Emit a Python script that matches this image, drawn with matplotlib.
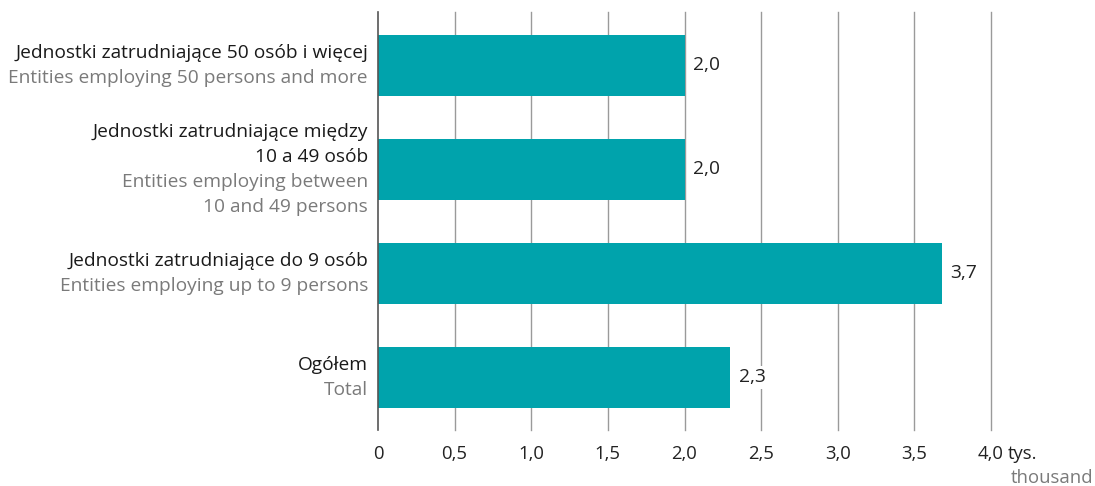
import matplotlib
matplotlib.use("Agg")
import matplotlib.pyplot as plt
import matplotlib.transforms as mtransforms

plt.rcParams["font.family"] = ["Open Sans", "DejaVu Sans"]

# categories from bottom to top
labels_pl = [["Ogółem"],
             ["Jednostki zatrudniające do 9 osób"],
             ["Jednostki zatrudniające między", "10 a 49 osób"],
             ["Jednostki zatrudniające 50 osób i więcej"]]
labels_en = [["Total"],
             ["Entities employing up to 9 persons"],
             ["Entities employing between", "10 and 49 persons"],
             ["Entities employing 50 persons and more"]]
values = [2.3, 3.68, 2.0, 2.0]
xticks = [0, 0.5, 1.0, 1.5, 2.0, 2.5, 3.0, 3.5, 4.0]
xtick_labels = ["0", "0,5", "1,0", "1,5", "2,0", "2,5", "3,0", "3,5", "4,0"]

BAR = "#00A3AC"
GRAY_TXT = "#7a7a7a"
FS = 13.8

W, H = 1095, 486
fig = plt.figure(figsize=(W / 100, H / 100), dpi=100)
ax = fig.add_axes([378 / W, 1 - 430 / H, (991 - 378) / W, (430 - 12) / H])

ypos = list(range(len(values)))
ax.barh(ypos, values, height=0.59, color=BAR, zorder=3)
ax.set_xlim(0, 4.0)
ax.set_ylim(-0.505, 3.514)

for x in xticks[1:]:
    ax.axvline(x, color="#9a9a9a", lw=1.0, zorder=1, clip_on=False)
ax.axvline(0, color="#555555", lw=1.2, zorder=4, clip_on=False)

for s in ax.spines.values():
    s.set_visible(False)
ax.set_yticks([])
ax.set_xticks(xticks)
ax.set_xticklabels(xtick_labels, fontsize=FS - 0.5, color="#222222")
ax.tick_params(axis="x", length=0, pad=11)

# unit after the last tick label
xa = mtransforms.blended_transform_factory(ax.transData, ax.transAxes)
ax.annotate("tys.", xy=(4.0, 0), xycoords=xa, xytext=(12, -11),
            textcoords="offset points", ha="left", va="top",
            fontsize=FS - 0.5, color="#222222", annotation_clip=False)
fig.text(1093 / W, 1 - 478 / H, "thousand", fontsize=FS - 0.5, color=GRAY_TXT,
         ha="right", va="center")

# value labels
for y, v in zip(ypos, values):
    ax.annotate(f"{v:.1f}".replace(".", ","), (v, y), xytext=(6, 0),
                textcoords="offset points", va="center", ha="left",
                fontsize=FS, color="#222222", zorder=5,
                bbox=dict(boxstyle="square,pad=0.15", fc="white", ec="none"))

# category labels: black polish lines then gray english lines
LINE = 25  # px
trans = mtransforms.blended_transform_factory(ax.transAxes, ax.transData)
for y, pl, en in zip(ypos, labels_pl, labels_en):
    lines = [(s, "#1a1a1a") for s in pl] + [(s, GRAY_TXT) for s in en]
    n = len(lines)
    for i, (s, c) in enumerate(lines):
        dy = -(i - (n - 1) / 2) * LINE
        tr = mtransforms.offset_copy(trans, fig=fig, x=-10, y=dy, units="dots")
        ax.text(0, y, s, transform=tr, ha="right", va="center",
                fontsize=FS, color=c)

fig.savefig("out.png", dpi=100, facecolor="white")
